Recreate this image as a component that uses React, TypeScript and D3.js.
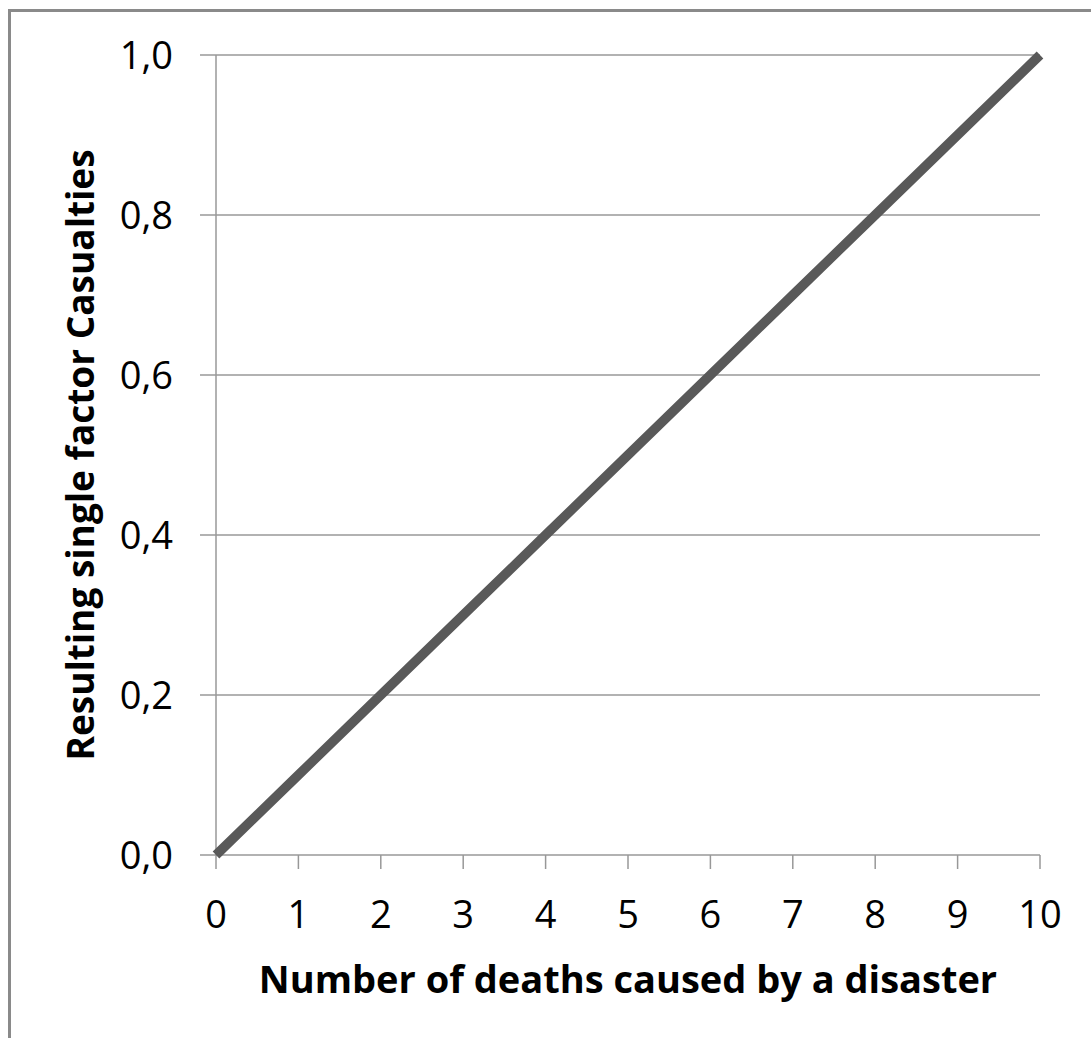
import React from "react";
import * as d3 from "d3";

const deaths = [0, 1, 2, 3, 4, 5, 6, 7, 8, 9, 10];
const casualtyFactor = [0, 0.1, 0.2, 0.3, 0.4, 0.5, 0.6, 0.7, 0.8, 0.9, 1.0];
const xTicks = [0, 1, 2, 3, 4, 5, 6, 7, 8, 9, 10];
const yTicks = [0, 0.2, 0.4, 0.6, 0.8, 1.0];
const xTitle = "Number of deaths caused by a disaster";
const yTitle = "Resulting single factor Casualties";

const W = 1091;
const H = 1038;
const plot = { left: 216, right: 1040, top: 55, bottom: 855 };
const FONT = "'Open Sans', 'Liberation Sans', sans-serif";

export default function App() {
  const x = d3.scaleLinear().domain([0, 10]).range([plot.left, plot.right]);
  const y = d3.scaleLinear().domain([0, 1]).range([plot.bottom, plot.top]);
  const line = d3
    .line<number>()
    .x((_, i) => x(deaths[i]))
    .y((d) => y(d));
  const fmt = (v: number) => v.toFixed(1).replace(".", ",");
  const grid = "#989898";
  return (
    <svg
      width={W}
      height={H}
      style={{ position: "absolute", left: 0, top: 0, background: "#fff" }}
      fontFamily={FONT}
    >
      <rect x={9.5} y={10.5} width={W + 20} height={H + 20} fill="#fff" stroke="#8a8a8a" strokeWidth={3} />
      {yTicks.map((t) => (
        <line key={"g" + t} x1={plot.left - 16} x2={plot.right} y1={y(t)} y2={y(t)} stroke={grid} strokeWidth={1.5} />
      ))}
      <line x1={plot.left} x2={plot.left} y1={plot.top} y2={plot.bottom} stroke={grid} strokeWidth={1.5} />
      {xTicks.map((t) => (
        <line key={"t" + t} x1={x(t)} x2={x(t)} y1={plot.bottom} y2={plot.bottom + 14} stroke={grid} strokeWidth={1.5} />
      ))}
      <path d={line(casualtyFactor) || ""} fill="none" stroke="#595959" strokeWidth={9.5} strokeLinecap="butt" />
      {yTicks.map((t) => (
        <text key={"yl" + t} x={173} y={y(t)} dy="0.36em" textAnchor="end" fontSize={38} fill="#000">
          {fmt(t)}
        </text>
      ))}
      {xTicks.map((t) => (
        <text key={"xl" + t} x={x(t)} y={928} textAnchor="middle" fontSize={38} fill="#000">
          {t}
        </text>
      ))}
      <text x={(plot.left + plot.right) / 2} y={993} textAnchor="middle" fontSize={38} fontWeight="bold" fill="#000">
        {xTitle}
      </text>
      <text
        transform={`translate(94, ${(plot.top + plot.bottom) / 2}) rotate(-90)`}
        textAnchor="middle"
        fontSize={37}
        fontWeight="bold"
        fill="#000"
      >
        {yTitle}
      </text>
    </svg>
  );
}
